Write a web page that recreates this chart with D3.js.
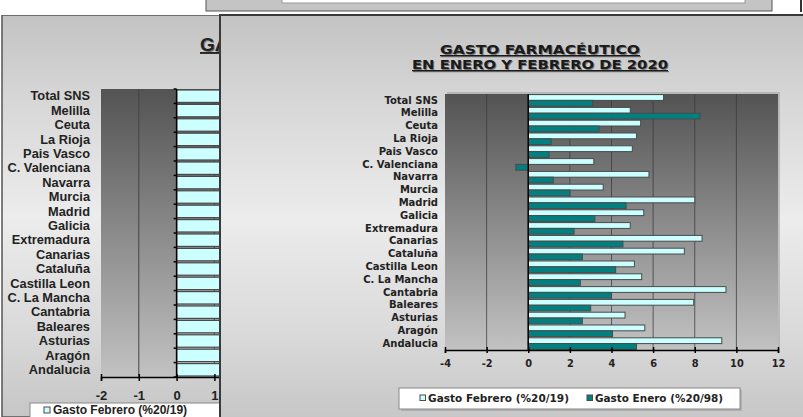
<!DOCTYPE html>
<html lang="es">
<head>
<meta charset="UTF-8">
<title>Gasto farmacéutico enero y febrero 2020</title>
<script src="https://d3js.org/d3.v7.min.js"></script>
<style>
  body { margin: 0; background: #fff; }
  svg { display: block; }
  .dv { font-family: "DejaVu Sans", Verdana, sans-serif; font-weight: bold; }
  .ar { font-family: "Liberation Sans", Arial, sans-serif; font-weight: bold; }
</style>
</head>
<body>
<div id="chart"></div>
<script>
// data
const categories = ['Total SNS', 'Melilla', 'Ceuta', 'La Rioja', 'Pais Vasco', 'C. Valenciana',
  'Navarra', 'Murcia', 'Madrid', 'Galicia', 'Extremadura', 'Canarias', 'Cataluña',
  'Castilla Leon', 'C. La Mancha', 'Cantabria', 'Baleares', 'Asturias', 'Aragón', 'Andalucia'];
const febrero = [6.5, 4.9, 5.4, 5.2, 5.0, 3.15, 5.8, 3.6, 8.0, 5.55, 4.9, 8.35, 7.5, 5.1, 5.45, 9.5, 7.95, 4.65, 5.6, 9.3];
const enero = [3.1, 8.25, 3.4, 1.1, 1.0, -0.6, 1.2, 2.0, 4.7, 3.2, 2.2, 4.55, 2.6, 4.2, 2.5, 4.0, 3.0, 2.6, 4.05, 5.2];
const rightTicks = [-4, -2, 0, 2, 4, 6, 8, 10, 12];
const leftTicks = [-2, -1, 0, 1];
const seriesNames = ['Gasto Febrero (%20/19)', 'Gasto Enero (%20/98)'];
const titleLines = ['GASTO FARMACÉUTICO', 'EN ENERO Y FEBRERO DE 2020'];

const W = 803, H = 417;
const cFeb = '#ccffff', cEne = '#008080', cEdge = '#4a4a4a';
const plain = d => String(d); // hyphen minus like the original

const svg = d3.select('#chart').append('svg')
  .attr('width', W).attr('height', H);

const defs = svg.append('defs');
const winGrad = defs.append('linearGradient').attr('id', 'winbg')
  .attr('x1', 0).attr('y1', 0).attr('x2', 0).attr('y2', 1);
[[0, '#c3c3c3'], [0.2, '#d6d6d6'], [0.5, '#ececec'], [0.78, '#dadada'], [1, '#c6c6c6']]
  .forEach(([o, c]) => winGrad.append('stop').attr('offset', o).attr('stop-color', c));
const plotGrad = defs.append('linearGradient').attr('id', 'plotbg')
  .attr('x1', 0).attr('y1', 0).attr('x2', 0).attr('y2', 1);
[[0, '#535353'], [1, '#c2c2c2']]
  .forEach(([o, c]) => plotGrad.append('stop').attr('offset', o).attr('stop-color', c));
defs.append('clipPath').attr('id', 'leftclip')
  .append('rect').attr('x', 0).attr('y', 15).attr('width', 220).attr('height', H - 15);

// strip of another window at the top
svg.append('rect').attr('x', 206).attr('y', -2).attr('width', 566).attr('height', 13)
  .attr('fill', '#c4c4c4').attr('stroke', '#555').attr('stroke-width', 1);
svg.append('rect').attr('x', 282).attr('y', -2).attr('width', 463).attr('height', 5)
  .attr('fill', '#fff').attr('stroke', '#999');
svg.append('line').attr('x1', 801).attr('x2', 801).attr('y1', 0).attr('y2', 12)
  .attr('stroke', '#333').attr('stroke-width', 2);

// ---------- left window (mostly hidden) ----------
const left = svg.append('g').attr('clip-path', 'url(#leftclip)');
left.append('rect').attr('x', 2).attr('y', 15).attr('width', 260).attr('height', H - 15)
  .attr('fill', 'url(#winbg)').attr('stroke', '#555').attr('stroke-width', 1.5);

left.append('text').attr('class', 'ar').attr('x', 201).attr('y', 52)
  .attr('font-size', 19).attr('fill', '#777').text(titleLines[0]);
left.append('text').attr('class', 'ar').attr('x', 200).attr('y', 51)
  .attr('font-size', 19).attr('fill', '#222')
  .attr('text-decoration', 'underline').text(titleLines[0]);

const lx = d3.scaleLinear().domain([-2, 6]).range([101, 101 + 8 * 37.8]);
const ly = d3.scaleBand().domain(categories).range([89, 377]);

left.append('rect').attr('x', lx(-2)).attr('y', 89).attr('width', lx(6) - lx(-2)).attr('height', 288)
  .attr('fill', 'url(#plotbg)');
left.selectAll('line.lgrid').data(leftTicks.filter(d => d !== 0 && d !== -2)).join('line')
  .attr('class', 'lgrid')
  .attr('x1', d => lx(d)).attr('x2', d => lx(d)).attr('y1', 89).attr('y2', 377)
  .attr('stroke', '#444').attr('stroke-width', 1);

left.selectAll('rect.lbar').data(categories).join('rect')
  .attr('class', 'lbar')
  .attr('x', lx(0)).attr('y', d => ly(d) + 1)
  .attr('width', (d, i) => lx(febrero[i]) - lx(0)).attr('height', ly.bandwidth() - 2)
  .attr('fill', cFeb).attr('stroke', cEdge).attr('stroke-width', 1.2);

left.append('line').attr('x1', lx(0)).attr('x2', lx(0)).attr('y1', 89).attr('y2', 377)
  .attr('stroke', '#000').attr('stroke-width', 1.5);
left.selectAll('line.ltick').data(d3.range(21)).join('line')
  .attr('class', 'ltick')
  .attr('x1', lx(0) - 3).attr('x2', lx(0)).attr('y1', d => 89 + d * ly.step()).attr('y2', d => 89 + d * ly.step())
  .attr('stroke', '#000').attr('stroke-width', 1.5);

const lyAxis = left.append('g').attr('transform', `translate(${lx(-2)},0)`)
  .call(d3.axisLeft(ly).tickSize(0).tickPadding(11));
lyAxis.select('.domain').remove();
lyAxis.selectAll('text').attr('class', 'ar').attr('font-size', 12.8).attr('fill', '#222');

const lxAxis = left.append('g').attr('transform', 'translate(0,377)')
  .call(d3.axisBottom(lx).tickValues(leftTicks).tickSize(4).tickPadding(10).tickFormat(plain));
lxAxis.select('.domain').attr('stroke', '#000').attr('stroke-width', 1.5);
lxAxis.selectAll('line').attr('stroke', '#000').attr('stroke-width', 1.5).attr('y1', -3);
lxAxis.selectAll('text').attr('class', 'ar').attr('font-size', 13).attr('fill', '#222');

left.append('rect').attr('x', 30).attr('y', 403).attr('width', 200).attr('height', 20)
  .attr('fill', '#fff').attr('stroke', '#888');
left.append('rect').attr('x', 44).attr('y', 407).attr('width', 6).attr('height', 6)
  .attr('fill', cFeb).attr('stroke', cEdge);
left.append('text').attr('class', 'ar').attr('x', 53).attr('y', 414)
  .attr('font-size', 12).attr('fill', '#222').text(seriesNames[0]);

// ---------- right window (front) ----------
const right = svg.append('g');
right.append('rect').attr('x', 220).attr('y', 15).attr('width', W - 220 + 5).attr('height', H - 15 + 5)
  .attr('fill', 'url(#winbg)').attr('stroke', '#3a3a3a').attr('stroke-width', 2);

titleLines.forEach((t, i) => {
  const y = 54 + i * 15;
  const len = i === 0 ? 200 : 256;
  right.append('text').attr('class', 'dv').attr('x', 541).attr('y', y + 1)
    .attr('text-anchor', 'middle').attr('font-size', 12.5).attr('fill', '#777')
    .attr('textLength', len).attr('lengthAdjust', 'spacingAndGlyphs')
    .attr('text-decoration', 'underline').text(t);
  right.append('text').attr('class', 'dv').attr('x', 540).attr('y', y)
    .attr('text-anchor', 'middle').attr('font-size', 12.5).attr('fill', '#1a1a1a')
    .attr('textLength', len).attr('lengthAdjust', 'spacingAndGlyphs')
    .attr('text-decoration', 'underline').text(t);
});

const x = d3.scaleLinear().domain([-4, 12]).range([445, 778]);
const y = d3.scaleBand().domain(categories).range([94, 350]);
const gap = 1.2, bh = (y.bandwidth() - gap) / 2;

// plot area with a light shadow edge
right.append('rect').attr('x', x(-4) + 2).attr('y', 92).attr('width', x(12) - x(-4)).attr('height', 258)
  .attr('fill', '#9a9a9a').attr('opacity', 0.5);
right.append('rect').attr('x', x(-4)).attr('y', 94).attr('width', x(12) - x(-4)).attr('height', 256)
  .attr('fill', 'url(#plotbg)');

right.selectAll('line.grid').data(rightTicks.filter(d => d !== 0 && d !== -4 && d !== 12)).join('line')
  .attr('class', 'grid')
  .attr('x1', d => x(d)).attr('x2', d => x(d)).attr('y1', 94).attr('y2', 350)
  .attr('stroke', '#3a3a3a').attr('stroke-width', 1).attr('opacity', 0.75);

right.selectAll('rect.feb').data(categories).join('rect')
  .attr('class', 'feb')
  .attr('x', (d, i) => Math.min(x(0), x(febrero[i])))
  .attr('y', d => y(d) + gap / 2)
  .attr('width', (d, i) => Math.abs(x(febrero[i]) - x(0)))
  .attr('height', bh)
  .attr('fill', cFeb).attr('stroke', cEdge).attr('stroke-width', 1);

right.selectAll('rect.ene').data(categories).join('rect')
  .attr('class', 'ene')
  .attr('x', (d, i) => Math.min(x(0), x(enero[i])))
  .attr('y', d => y(d) + gap / 2 + bh)
  .attr('width', (d, i) => Math.abs(x(enero[i]) - x(0)))
  .attr('height', bh)
  .attr('fill', cEne).attr('stroke', cEdge).attr('stroke-width', 1);

right.append('line').attr('x1', x(0)).attr('x2', x(0)).attr('y1', 94).attr('y2', 350)
  .attr('stroke', '#000').attr('stroke-width', 1.5);

const yAxis = right.append('g').attr('transform', `translate(${x(-4)},0)`)
  .call(d3.axisLeft(y).tickSize(0).tickPadding(7));
yAxis.select('.domain').remove();
yAxis.selectAll('text').attr('class', 'dv').attr('font-size', 10).attr('fill', '#222');

const xAxis = right.append('g').attr('transform', 'translate(0,350)')
  .call(d3.axisBottom(x).tickValues(rightTicks).tickSize(3).tickPadding(7).tickFormat(plain));
xAxis.select('.domain').attr('stroke', '#000').attr('stroke-width', 1.5);
xAxis.selectAll('line').attr('stroke', '#000').attr('stroke-width', 1.5).attr('y1', -3);
xAxis.selectAll('text').attr('class', 'dv').attr('font-size', 9.8).attr('fill', '#222');

// legend
right.append('rect').attr('x', 401).attr('y', 390).attr('width', 341).attr('height', 21)
  .attr('fill', '#a0a0a0').attr('opacity', 0.6);
right.append('rect').attr('x', 399).attr('y', 388).attr('width', 341).attr('height', 21)
  .attr('fill', '#fff').attr('stroke', '#888');
const legX = [420, 587];
const legLen = [141, 128];
seriesNames.forEach((name, i) => {
  right.append('rect').attr('x', legX[i]).attr('y', 395).attr('width', 5.5).attr('height', 5.5)
    .attr('fill', i === 0 ? cFeb : cEne).attr('stroke', cEdge);
  right.append('text').attr('class', 'dv').attr('x', legX[i] + 8).attr('y', 402)
    .attr('font-size', 9.6).attr('fill', '#222')
    .attr('textLength', legLen[i]).attr('lengthAdjust', 'spacingAndGlyphs').text(name);
});
</script>
</body>
</html>
